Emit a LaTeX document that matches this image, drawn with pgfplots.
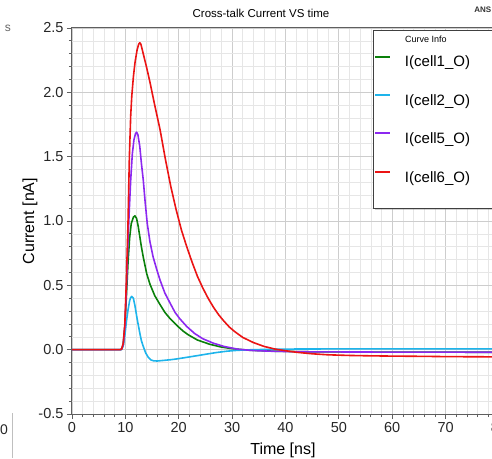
\documentclass[border=0pt]{standalone}
\usepackage{fontspec}
\setmainfont{Liberation Sans}
\usepackage{pgfplots}
\pgfplotsset{compat=1.18}
\usetikzlibrary{shadows}
\definecolor{cOne}{RGB}{10,128,10}
\definecolor{cTwo}{RGB}{30,180,235}
\definecolor{cFive}{RGB}{140,40,240}
\definecolor{cSix}{RGB}{235,20,20}
\definecolor{majgrid}{RGB}{205,205,205}
\definecolor{mingrid}{RGB}{230,230,230}
\definecolor{axcol}{RGB}{95,95,95}
\begin{document}
\begin{tikzpicture}
\useasboundingbox (-72pt,-44pt) rectangle (420pt,414pt);
\clip (-72pt,-44pt) rectangle (420pt,414pt);
\begin{axis}[
  scale only axis, width=427pt, height=386pt,
  xmin=0, xmax=80, ymin=-0.5, ymax=2.5,
  xtick={0,10,20,30,40,50,60,70,80},
  ytick={-0.5,0,0.5,1,1.5,2,2.5},
  yticklabels={-0.5,0.0,0.5,1.0,1.5,2.0,2.5},
  minor x tick num=4, minor y tick num=4,
  grid=both,
  major grid style={majgrid, line width=0.8pt},
  minor grid style={mingrid, line width=0.6pt},
  tick align=outside, xtick pos=bottom, ytick pos=left,
  major tick length=5pt, minor tick length=3pt,
  every tick/.style={axcol, line width=0.8pt},
  axis line style={axcol, line width=1pt},
  /pgf/number format/assume math mode=true,
  tick label style={font=\fontsize{14.5}{17}\selectfont, text=black!85},
  xlabel={Time [ns]}, ylabel={Current [nA]},
  every axis x label/.style={at={(axis description cs:0.494,-0.0933)}, anchor=center, font=\fontsize{16}{19}\selectfont},
  every axis y label/.style={at={(axis description cs:-0.0984,0.5)}, rotate=90, anchor=center, font=\fontsize{16}{19}\selectfont},
  legend cell align=left,
  legend image code/.code={\fill[#1, draw=none] (0pt,4.5pt) rectangle (15pt,6.7pt);},
  legend style={draw=none, fill=none, at={(0.7096,0.9325)}, anchor=north west,
    inner sep=0pt, outer sep=0pt, font=\fontsize{15}{18}\selectfont,
    row sep=22pt,
    /tikz/every odd column/.append style={column sep=13pt}},
]
\draw[draw=black!75, fill=white, line width=0.8pt,
  drop shadow={shadow xshift=2pt, shadow yshift=-2pt, opacity=0.35, fill=black!50}]
  (rel axis cs:0.7049,0.993) rectangle (rel axis cs:1.01,0.5337);
\node[anchor=west, font=\fontsize{9}{11}\selectfont] at (rel axis cs:0.7721,0.9707) {Curve Info};

\addplot[cOne, line width=1.6pt, line join=round] coordinates {
(0,0) (9.0,0) (9.3,0.003) (9.6,0.04) (9.9,0.17) (10.2,0.42) (10.5,0.68) (10.8,0.87) (11.1,0.98) (11.5,1.03) (11.8,1.04) (12.1,1.02) (12.4,0.96) (12.7,0.88) (13.0,0.80) (13.35,0.72) (14.0,0.59) (14.6,0.51) (15.5,0.42) (16.5,0.35) (17.4,0.29) (18.4,0.24) (19.6,0.19) (20.8,0.145) (21.8,0.115) (23.5,0.075) (25.8,0.042) (28,0.02) (30.2,0.007) (33,-0.004) (38,-0.012) (45,-0.017) (60,-0.019) (80,-0.02)};
\addplot[cTwo, line width=1.6pt, line join=round] coordinates {
(0,0) (9.0,0) (9.3,0.002) (9.6,0.03) (9.9,0.11) (10.2,0.22) (10.5,0.31) (10.8,0.38) (11.0,0.405) (11.2,0.414) (11.5,0.40) (11.8,0.34) (12.2,0.24) (12.7,0.13) (13.0,0.07) (13.35,0.026) (13.8,-0.025) (14.3,-0.06) (14.8,-0.08) (15.3,-0.087) (16,-0.088) (17,-0.084) (18.5,-0.078) (19.6,-0.072) (21,-0.063) (23.4,-0.047) (25,-0.036) (27.1,-0.022) (29,-0.012) (31,-0.005) (34,0) (38,0.003) (42,0.005) (50,0.006) (80,0.006)};
\addplot[cFive, line width=1.6pt, line join=round] coordinates {
(0,0) (9.0,0) (9.3,0.003) (9.6,0.04) (9.9,0.18) (10.2,0.48) (10.5,0.85) (10.75,1.1) (11.0,1.32) (11.3,1.52) (11.6,1.63) (11.9,1.68) (12.1,1.69) (12.35,1.67) (12.7,1.58) (13.0,1.45) (13.35,1.32) (13.7,1.15) (14.1,0.98) (14.6,0.84) (15.2,0.72) (15.9,0.62) (16.5,0.54) (17.4,0.44) (18.4,0.36) (19.3,0.29) (20.2,0.24) (21.5,0.18) (23.0,0.125) (24.5,0.085) (26.5,0.05) (28.5,0.025) (31,0.004) (34,-0.007) (38,-0.013) (45,-0.017) (60,-0.019) (80,-0.02)};
\addplot[cSix, line width=1.6pt, line join=round] coordinates {
(0,0) (9.0,0) (9.3,0.005) (9.6,0.05) (9.9,0.2) (10.2,0.55) (10.5,1.0) (10.75,1.5) (11.0,1.82) (11.2,1.97) (11.5,2.12) (11.8,2.23) (12.2,2.33) (12.5,2.375) (12.7,2.385) (12.9,2.375) (13.35,2.30) (14.0,2.19) (14.6,2.08) (15.5,1.90) (16.5,1.71) (17.5,1.48) (18.5,1.27) (19.5,1.09) (20.5,0.93) (21.5,0.80) (22.5,0.68) (23.5,0.57) (24.5,0.48) (25.5,0.40) (26.5,0.33) (27.5,0.27) (28.5,0.22) (29.5,0.175) (30.5,0.14) (32,0.095) (34,0.055) (36,0.025) (38,0.005) (40,-0.008) (42,-0.02) (45,-0.032) (48,-0.04) (52,-0.045) (56,-0.048) (60,-0.05) (66,-0.052) (70,-0.054) (80,-0.056)};
\legend{I(cell1\_O), I(cell2\_O), I(cell5\_O), I(cell6\_O)}
\end{axis}
\node[font=\fontsize{11.5}{14}\selectfont] at (189pt,401pt) {Cross-talk Current VS time};
\node[anchor=east, font=\bfseries\fontsize{8}{10}\selectfont, text=black!80, inner sep=0.5pt] at (420pt,404pt) {ANS};
\node[font=\rmfamily\fontsize{12}{14}\selectfont, text=black!60] at (-64pt,386pt) {s};
\node[font=\fontsize{14}{16}\selectfont, text=black!85] at (-68pt,-16pt) {0};
\draw[black!25, line width=0.6pt] (-60pt,1pt) -- (-60pt,-44pt);
\end{tikzpicture}
\end{document}
